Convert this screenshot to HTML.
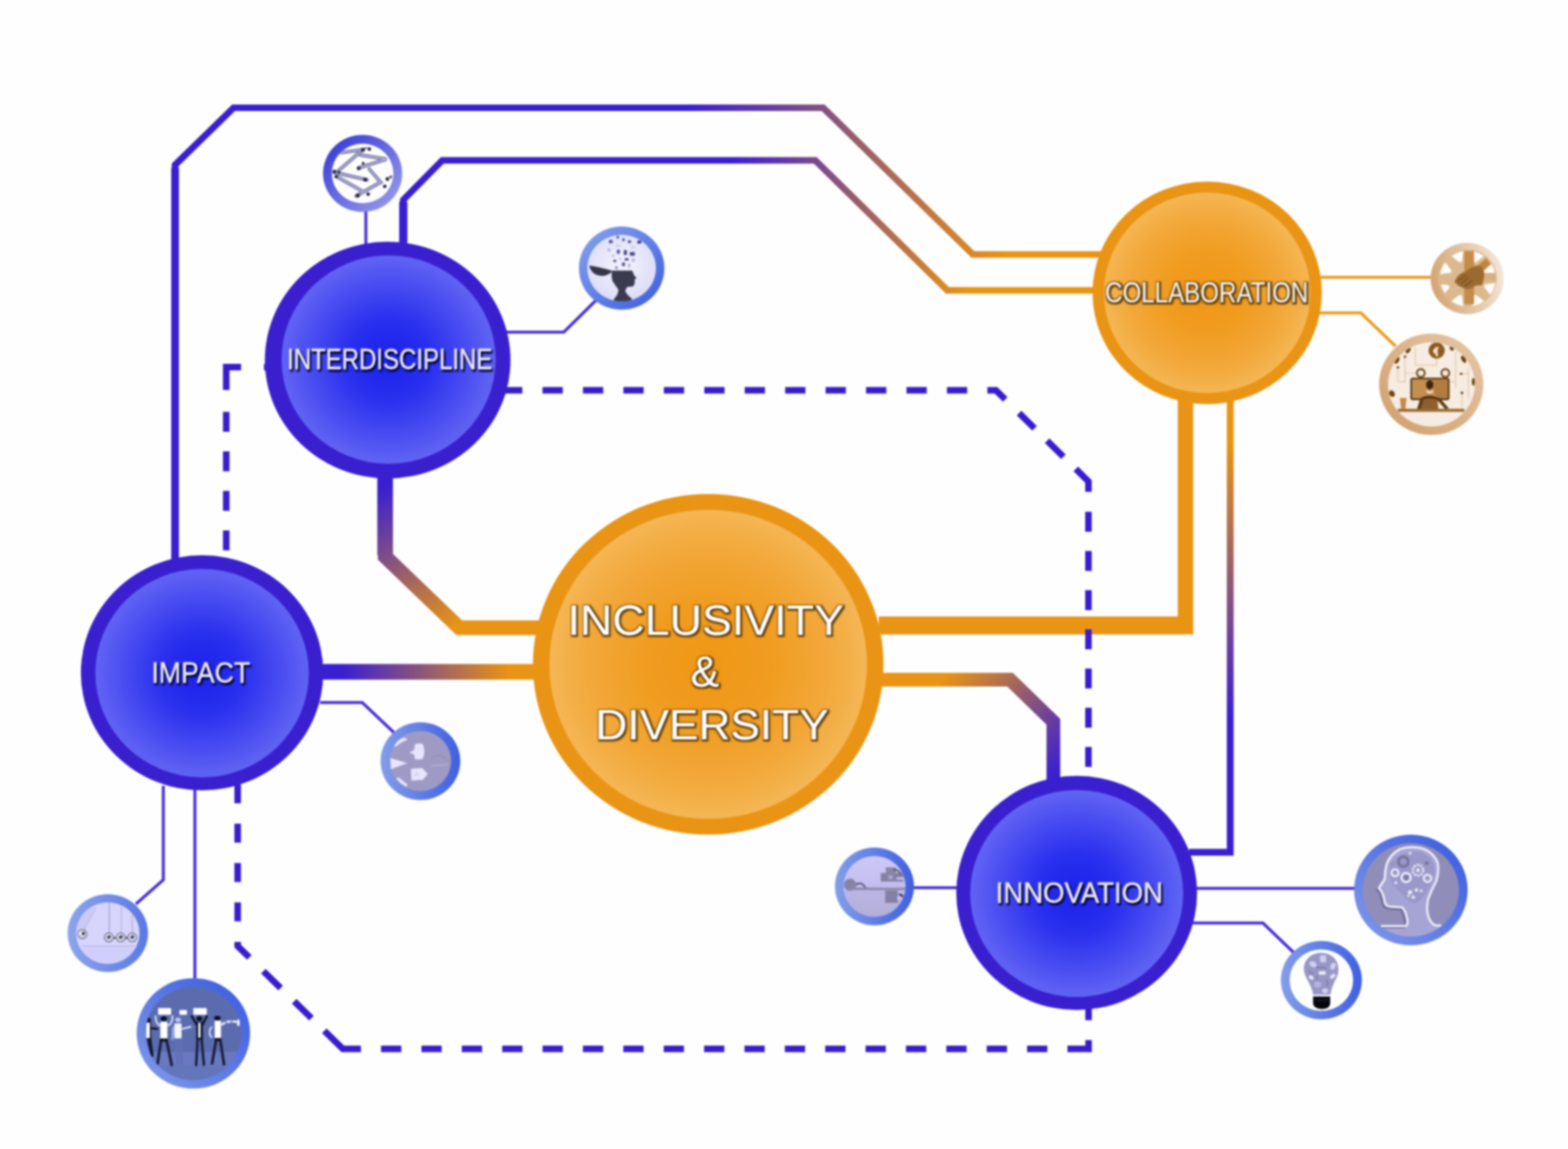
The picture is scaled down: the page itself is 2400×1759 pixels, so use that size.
<!DOCTYPE html>
<html lang="en">
<head>
<meta charset="utf-8">
<title>Inclusivity &amp; Diversity</title>
<style>
html,body{margin:0;padding:0;background:#fefefe;}
body{width:2400px;height:1759px;overflow:hidden;font-family:"Liberation Sans",sans-serif;}
svg{display:block;}
.lbl{font-family:"Liberation Sans",sans-serif;fill:#fff;text-anchor:middle;}
</style>
</head>
<body>
<svg width="2400" height="1759" viewBox="0 0 2400 1759">
<defs>
  <radialGradient id="gBlue" cx="50%" cy="50%" r="50%">
    <stop offset="0" stop-color="#1a20ea"/>
    <stop offset="0.4" stop-color="#2a30ee"/>
    <stop offset="0.75" stop-color="#4a4ef1"/>
    <stop offset="1" stop-color="#6064f3"/>
  </radialGradient>
  <radialGradient id="gOrange" cx="50%" cy="50%" r="50%">
    <stop offset="0" stop-color="#ef9614"/>
    <stop offset="0.4" stop-color="#f09c20"/>
    <stop offset="0.75" stop-color="#f2a83a"/>
    <stop offset="1" stop-color="#f4b654"/>
  </radialGradient>
  <linearGradient id="l1" gradientUnits="userSpaceOnUse" x1="1050" y1="0" x2="1540" y2="0">
    <stop offset="0" stop-color="#3a1fd0"/><stop offset="1" stop-color="#e99414"/>
  </linearGradient>
  <linearGradient id="l2" gradientUnits="userSpaceOnUse" x1="1120" y1="0" x2="1480" y2="0">
    <stop offset="0" stop-color="#3a1fd0"/><stop offset="1" stop-color="#e99414"/>
  </linearGradient>
  <linearGradient id="l3" gradientUnits="userSpaceOnUse" x1="590" y1="745" x2="705" y2="955">
    <stop offset="0" stop-color="#3a1fd0"/><stop offset="1" stop-color="#e99414"/>
  </linearGradient>
  <linearGradient id="l4" gradientUnits="userSpaceOnUse" x1="525" y1="0" x2="780" y2="0">
    <stop offset="0" stop-color="#3a1fd0"/><stop offset="1" stop-color="#e99414"/>
  </linearGradient>
  <linearGradient id="l6" gradientUnits="userSpaceOnUse" x1="1450" y1="1030" x2="1620" y2="1180">
    <stop offset="0" stop-color="#e99414"/><stop offset="1" stop-color="#3a1fd0"/>
  </linearGradient>
  <linearGradient id="l7" gradientUnits="userSpaceOnUse" x1="0" y1="675" x2="0" y2="1100">
    <stop offset="0" stop-color="#e99414"/><stop offset="1" stop-color="#3a1fd0"/>
  </linearGradient>
  <linearGradient id="r1" x1="0.1" y1="0.1" x2="0.9" y2="0.9"><stop offset="0" stop-color="#3a3ed6"/><stop offset="1" stop-color="#9498e8"/></linearGradient>
  <linearGradient id="r2" x1="0.1" y1="0.1" x2="0.9" y2="0.9"><stop offset="0" stop-color="#809cea"/><stop offset="1" stop-color="#4464e0"/></linearGradient>
  <linearGradient id="r3" x1="0" y1="0.6" x2="1" y2="0.4"><stop offset="0" stop-color="#d2a472"/><stop offset="1" stop-color="#f3e6d8"/></linearGradient>
  <linearGradient id="r4" x1="0.9" y1="0.1" x2="0.1" y2="0.9"><stop offset="0" stop-color="#e4c4a2"/><stop offset="1" stop-color="#d2a270"/></linearGradient>
  <linearGradient id="r5" x1="0" y1="0.5" x2="1" y2="0.5"><stop offset="0" stop-color="#829eea"/><stop offset="1" stop-color="#3f5fe0"/></linearGradient>
  <linearGradient id="r6" x1="0" y1="0.5" x2="1" y2="0.5"><stop offset="0" stop-color="#8ca4ec"/><stop offset="1" stop-color="#5a78e4"/></linearGradient>
  <linearGradient id="r7" x1="0.1" y1="0.9" x2="0.9" y2="0.1"><stop offset="0" stop-color="#7c94e8"/><stop offset="1" stop-color="#3f5fe0"/></linearGradient>
  <radialGradient id="f2" cx="50%" cy="45%" r="55%"><stop offset="0" stop-color="#f4f4fd"/><stop offset="1" stop-color="#dcdcf8"/></radialGradient>
  <linearGradient id="f8" x1="0" y1="0" x2="0" y2="1"><stop offset="0" stop-color="#cec8f6"/><stop offset="0.5" stop-color="#c4bef0"/><stop offset="1" stop-color="#b2acd6"/></linearGradient>
  <clipPath id="c1"><ellipse cx="555" cy="265.5" rx="47" ry="45.5"/></clipPath>
  <clipPath id="c2"><ellipse cx="951.5" cy="410.5" rx="52.5" ry="51"/></clipPath>
  <clipPath id="c3"><ellipse cx="2246" cy="426" rx="45" ry="44"/></clipPath>
  <clipPath id="c4"><ellipse cx="2191" cy="588.5" rx="66.5" ry="64.5"/></clipPath>
  <clipPath id="c5"><ellipse cx="643.5" cy="1165" rx="47" ry="46"/></clipPath>
  <clipPath id="c6"><ellipse cx="165" cy="1428.5" rx="48.5" ry="47"/></clipPath>
  <clipPath id="c7"><ellipse cx="296" cy="1582" rx="73.5" ry="71.5"/></clipPath>
  <clipPath id="c8"><ellipse cx="1338.5" cy="1357" rx="47.5" ry="46.5"/></clipPath>
  <clipPath id="c9"><ellipse cx="2159.5" cy="1362.5" rx="73.5" ry="71.5"/></clipPath>
  <clipPath id="c10"><ellipse cx="2022.5" cy="1500.5" rx="48.5" ry="47"/></clipPath>
  <filter id="tsB" x="-10%" y="-40%" width="120%" height="190%">
    <feGaussianBlur in="SourceAlpha" stdDeviation="1.5"/>
    <feOffset dx="2.4" dy="3.4" result="o"/>
    <feFlood flood-color="#03033a" flood-opacity="1"/>
    <feComposite in2="o" operator="in" result="sh"/>
    <feMerge><feMergeNode in="sh"/><feMergeNode in="sh"/><feMergeNode in="SourceGraphic"/></feMerge>
  </filter>
  <filter id="tsO" x="-10%" y="-40%" width="120%" height="190%">
    <feMorphology in="SourceAlpha" operator="dilate" radius="2.2" result="d"/>
    <feGaussianBlur in="d" stdDeviation="0.8"/>
    <feOffset dx="0.9" dy="1.3" result="o"/>
    <feFlood flood-color="#5a3804" flood-opacity="1"/>
    <feComposite in2="o" operator="in" result="sh"/>
    <feMerge><feMergeNode in="sh"/><feMergeNode in="SourceGraphic"/></feMerge>
  </filter>
  <filter id="soft" x="-2%" y="-2%" width="104%" height="104%" color-interpolation-filters="sRGB">
    <feGaussianBlur stdDeviation="1.7"/>
  </filter>
</defs>
<rect width="2400" height="1759" fill="#fefefe"/>
<g id="art" filter="url(#soft)">
<rect width="2400" height="1759" fill="#fefefe"/>

<!-- connectors -->
<g id="lines" fill="none" stroke-linejoin="miter">
  <path d="M268 860 V252.5 L357.5 165 H1260 L1489 389.5 H1690" stroke="url(#l1)" stroke-width="10.2"/>
  <path d="M268 860 V257" stroke="#3a1fd0" stroke-width="11.8"/>
  <path d="M617.3 375 V306 L677 245.5 H1248 L1450 444.5 H1680" stroke="url(#l2)" stroke-width="10.2"/>
  <path d="M617.3 375 V309" stroke="#3a1fd0" stroke-width="12.6"/>
  <path d="M589.5 725 V852 L703 961 H830" stroke="url(#l3)" stroke-width="22.3"/>
  <path d="M589.5 725 V850" stroke="url(#l3)" stroke-width="24"/>
  <path d="M490 1028.5 H825" stroke="url(#l4)" stroke-width="24"/>
  <path d="M1345 957.5 H1826.2" stroke="#e99414" stroke-width="27.5"/>
  <path d="M1814.5 610 V971" stroke="#e99414" stroke-width="23.5"/>
  <path d="M1345 1040.5 H1546 L1612.3 1105 V1195" stroke="url(#l6)" stroke-width="21"/>
  <path d="M1883 610 V1304.8 H1820" stroke="url(#l7)" stroke-width="10.5"/>
</g>
<!-- dashed guide lines -->
<g id="dashed" fill="none" stroke="#381cce" stroke-width="10" stroke-linejoin="miter">
  <path d="M369 562 H346.3 V597"/>
  <path d="M404 562 H411"/>
  <path d="M346.3 630.5 V850" stroke-dasharray="30.5 30"/>
  <path d="M768.5 597.5 H1524.4 L1666 737 V1195" stroke-dasharray="31 30.9 31 30.9 31 30.9 31 30.9 31 30.9 31 30.9 31 30.9 31 30.9 31 30.9 31 30.9 31 30.9 31 30.9 33.1 29.7 33.3 27 35 26.6 43.2 30.5 30.5 29.5 30.5 29.5 30.5 29.5 30.5 29.5 30.5 29.5 30.5 29.5 30.5 29.5 30.5 29.5 30.5 29.5"/>
  <path d="M363.8 1200.7 V1448.3 L524.8 1605.8 H1666.2 V1540" stroke-dasharray="29 31.3 29 31.3 29 31.3 29 31.3 31.4 30 37 29 37 27.5 67.4 30.8 31 30.8 31 30.8 31 30.8 31 30.8 31 30.8 31 30.8 31 30.8 31 30.8 31 30.8 31 30.8 31 30.8 31 30.8 31 30.8 31 30.8 31 30.8 31 30.8 31 30.8 46 30.5 30 30"/>
</g>
<g id="thin" fill="none" stroke="#4a2fd6" stroke-width="4.6">
  <path d="M560 320 V375"/>
  <path d="M775 508.5 H863 L912 460"/>
  <path d="M490 1075.5 H554.5 L603.5 1122"/>
  <path d="M250 1203 V1347 L208 1384"/>
  <path d="M298.3 1208 V1501"/>
  <path d="M1395 1359 H1467"/>
  <path d="M1829 1360 H2076"/>
  <path d="M1826 1413 H1933 L1983 1461"/>
  <path d="M2018 424.5 H2193" stroke="#eb9a20"/>
  <path d="M2018 479 H2083 L2136 530" stroke="#eb9a20"/>
</g>
<!-- main nodes -->
<g id="big">
  <ellipse cx="593.4" cy="551.3" rx="188" ry="181.3" fill="#3a1fcf"/>
  <ellipse cx="594.8" cy="550.5" rx="163.8" ry="159.5" fill="url(#gBlue)"/>
  <ellipse cx="309.3" cy="1030" rx="185.5" ry="180" fill="#3a1fcf"/>
  <ellipse cx="309.3" cy="1030.5" rx="163.3" ry="159.5" fill="url(#gBlue)"/>
  <ellipse cx="1648" cy="1367" rx="184.3" ry="179.3" fill="#3a1fcf"/>
  <ellipse cx="1648" cy="1367.8" rx="163" ry="158.4" fill="url(#gBlue)"/>
  <ellipse cx="1847.7" cy="448.3" rx="175.5" ry="170.4" fill="#e99414"/>
  <ellipse cx="1847.7" cy="448.3" rx="158" ry="153.5" fill="url(#gOrange)"/>
  <ellipse cx="1084" cy="1017" rx="268.3" ry="260.8" fill="#e99414"/>
  <ellipse cx="1084" cy="1017" rx="243" ry="236.5" fill="url(#gOrange)"/>
</g>
<!-- small icon nodes -->
<g id="small">
  <!-- s1: network -->
  <g id="s1">
    <ellipse cx="555" cy="265.5" rx="60.6" ry="59" fill="url(#r1)"/>
    <ellipse cx="555" cy="265.5" rx="47" ry="45.5" fill="#fdfdff"/>
    <g clip-path="url(#c1)"><g transform="translate(480 190) scale(0.0908)" fill="none" stroke-linecap="round">
      <g stroke="#6c6c96" stroke-width="60">
        <path d="M470 480 L830 430 L380 820 L900 940"/>
        <path d="M790 520 L1230 590 L760 740"/>
        <path d="M400 890 L820 1130"/>
        <path d="M940 760 L1130 980 L720 1210"/>
      </g>
      <g stroke="#b4b4e2" stroke-width="26">
        <path d="M470 480 L830 430 L380 820 L900 940"/>
        <path d="M790 520 L1230 590 L760 740"/>
        <path d="M400 890 L820 1130"/>
        <path d="M940 760 L1130 980 L720 1210"/>
      </g>
      <g fill="#2c2c44" stroke="none">
        <circle cx="830" cy="435" r="34"/><circle cx="940" cy="420" r="30"/>
        <circle cx="350" cy="800" r="32"/><circle cx="425" cy="810" r="26"/><circle cx="380" cy="885" r="30"/>
        <circle cx="760" cy="745" r="32"/><circle cx="835" cy="660" r="24"/>
        <circle cx="870" cy="935" r="34"/><circle cx="1245" cy="925" r="32"/><circle cx="1300" cy="890" r="22"/>
        <circle cx="1200" cy="1050" r="30"/><circle cx="745" cy="1205" r="34"/><circle cx="920" cy="1180" r="30"/>
      </g>
    </g></g>
  </g>

  <!-- s2: open mind -->
  <g id="s2">
    <ellipse cx="951.5" cy="410.5" rx="65.4" ry="63.7" fill="url(#r2)"/>
    <ellipse cx="951.5" cy="410.5" rx="52.5" ry="51" fill="url(#f2)"/>
    <g clip-path="url(#c2)"><g transform="translate(870 330) scale(0.09685)">
      <path fill="#3a3b4e" d="M690 870 L1005 870 Q1030 900 1035 940 L1075 985 Q1070 1005 1045 1010 L1050 1050 Q1050 1090 1030 1100 L1035 1110 Q1000 1130 940 1125 Q900 1150 900 1200 Q940 1270 1000 1310 L1000 1400 L710 1400 L720 1320 Q790 1250 790 1170 Q740 1100 700 1040 Q670 960 690 870 Z"/>
      <path fill="#343546" d="M330 790 Q480 810 690 872 Q670 930 560 952 Q400 960 340 830 Z"/>
      <g fill="#5a5a9c">
        <rect x="640" y="385" width="60" height="55" rx="10"/><rect x="760" y="320" width="40" height="45" rx="8"/>
        <rect x="850" y="360" width="40" height="45" rx="8"/><rect x="940" y="390" width="50" height="45" rx="8"/>
        <rect x="1090" y="395" width="60" height="50" rx="10" fill="#40407a"/>
        <rect x="765" y="540" width="50" height="65" rx="8"/><rect x="875" y="545" width="50" height="80" rx="10" fill="#4c4c8c"/>
        <rect x="970" y="575" width="80" height="60" rx="10" fill="#4c4c8c"/>
        <rect x="710" y="700" width="50" height="35" rx="8"/><rect x="890" y="675" width="60" height="35" rx="8" fill="#40407a"/>
        <rect x="845" y="740" width="50" height="60" rx="10"/><rect x="740" y="805" width="40" height="40" rx="8" fill="#8080c0"/>
      </g>
      <g fill="#b4b4e6">
        <rect x="620" y="520" width="45" height="50" rx="8"/><rect x="690" y="620" width="35" height="35" rx="8"/>
        <rect x="800" y="670" width="40" height="30" rx="8"/><rect x="1000" y="680" width="50" height="50" rx="8"/>
        <rect x="940" y="760" width="40" height="60" rx="8"/><rect x="980" y="480" width="80" height="40" rx="8" fill="#d0d0f2"/>
        <rect x="740" y="460" width="90" height="40" rx="8" fill="#d0d0f2"/>
      </g>
    </g></g>
  </g>

  <!-- s3: hands -->
  <g id="s3">
    <ellipse cx="2245.7" cy="426.3" rx="56" ry="54.5" fill="url(#r3)"/>
    <g clip-path="url(#c3)"><g transform="translate(2170 350) scale(0.09685)">
      <circle cx="790" cy="790" r="470" fill="#dcb88e"/>
      <path fill="#fefcfa" d="M1060 880 L1225 859 A440 440 0 0 1 1146 1049 L1045 917 Z M917 1045 L1049 1146 A440 440 0 0 1 859 1225 L880 1060 Z M700 1060 L721 1225 A440 440 0 0 1 531 1146 L663 1045 Z M504 933 L427 1021 A430 430 0 0 1 370 883 L487 892 Z M520 700 L355 721 A440 440 0 0 1 434 531 L535 663 Z M663 535 L531 434 A440 440 0 0 1 721 355 L700 520 Z M880 520 L859 355 A440 440 0 0 1 1049 434 L917 535 Z M1045 663 L1146 531 A440 440 0 0 1 1225 721 L1060 700 Z"/>
      <rect x="735" y="355" width="155" height="840" fill="#c48c48"/>
      <path d="M960 570 L1080 470 L1160 560 L1050 660 Z" fill="#c08640"/>
      <rect x="1060" y="700" width="170" height="110" fill="#d8b080"/>
      <path fill="#9a6a30" d="M580 840 Q640 700 760 680 Q860 580 980 580 Q1060 640 1050 760 Q1040 860 1000 900 Q940 880 880 920 Q820 980 720 940 Q620 900 580 840 Z"/>
      <path fill="none" stroke="#7c5222" stroke-width="22" d="M640 820 L760 740 M680 870 L800 780 M740 910 L860 820"/>
    </g></g>
  </g>

  <!-- s4: office -->
  <g id="s4">
    <ellipse cx="2190.7" cy="588.3" rx="79.8" ry="77.6" fill="url(#r4)"/>
    <ellipse cx="2191" cy="588.5" rx="66.5" ry="64.5" fill="#f6ece2"/>
    <g clip-path="url(#c4)"><g transform="translate(2090 490) scale(0.12107)">
      <g fill="none" stroke="#e6c4a6" stroke-width="12">
        <path d="M630 350 V570 H900 V480"/><path d="M500 460 V800"/><path d="M410 600 V780 H500"/>
        <path d="M1140 400 V860"/><path d="M1300 600 V1000"/><path d="M1220 920 V1100"/>
        <path d="M500 670 H640"/><path d="M1180 680 H1300"/><path d="M1070 780 H1140"/>
      </g>
      <circle cx="900" cy="385" r="102" fill="#8a5a1e"/>
      <path d="M850 400 Q870 330 930 340 Q900 380 920 440 L905 470 Q880 420 850 400 Z" fill="#f2e2cc"/>
      <circle cx="700" cy="670" r="50" fill="#f6ece2" stroke="#7a4c18" stroke-width="24"/>
      <circle cx="1010" cy="670" r="50" fill="#f6ece2" stroke="#7a4c18" stroke-width="24"/>
      <rect x="578" y="738" width="474" height="264" rx="22" fill="#c48e50" stroke="#4a2e0a" stroke-width="20"/>
      <path d="M820 750 L1040 750 L1040 990 L900 990 Z" fill="#b07c40"/>
      <ellipse cx="812" cy="818" rx="46" ry="58" fill="#3e2408"/>
      <path d="M770 880 Q812 930 855 880 L850 915 Q812 940 775 915 Z" fill="#f6ece2"/>
      <path d="M690 1140 L715 975 Q812 930 905 975 L925 1140 Z" fill="#8e5e2c"/>
      <path d="M700 985 Q812 935 920 985 L920 1010 Q812 965 700 1010 Z" fill="#4a2e0a"/>
      <path d="M715 990 L670 1135" stroke="#5a3a12" stroke-width="40" fill="none"/>
      <path d="M915 990 L1035 1125" stroke="#5a3a12" stroke-width="40" fill="none"/>
      <rect x="410" y="1122" width="840" height="38" fill="#9a6a30"/>
      <path d="M435 985 H520 L505 1122 H450 Z" fill="#c48848"/>
      <g fill="#6a4414">
        <ellipse cx="540" cy="385" rx="24" ry="42" transform="rotate(40 540 385)"/>
        <ellipse cx="400" cy="510" rx="24" ry="48" transform="rotate(30 400 510)"/>
        <ellipse cx="1240" cy="495" rx="26" ry="50" transform="rotate(-30 1240 495)"/>
        <ellipse cx="1365" cy="780" rx="20" ry="50"/>
        <ellipse cx="335" cy="930" rx="34" ry="44" transform="rotate(-30 335 930)"/>
        <ellipse cx="1090" cy="360" rx="22" ry="30" transform="rotate(-40 1090 360)"/>
        <rect x="395" y="585" width="30" height="26"/><rect x="485" y="450" width="30" height="26"/>
        <rect x="1195" y="668" width="30" height="24"/><rect x="1205" y="905" width="30" height="30"/>
      </g>
    </g></g>
  </g>

  <!-- s5: arrows -->
  <g id="s5">
    <ellipse cx="643.5" cy="1165.3" rx="61" ry="59.5" fill="url(#r5)"/>
    <ellipse cx="643.5" cy="1165" rx="47" ry="46" fill="#9e9ac4"/>
    <g clip-path="url(#c5)"><g transform="translate(565 1085) scale(0.09685)">
      <g fill="#e8e4fd">
        <path d="M635 690 L715 650 L720 570 Q780 530 850 560 Q895 660 850 790 Q790 815 720 795 L715 730 Z"/>
        <path d="M335 780 L605 860 L345 955 Z"/>
        <path d="M660 950 L840 938 L925 1030 L850 1125 L668 1132 Z"/>
        <path d="M395 595 Q450 480 560 455 L605 490 Q500 530 420 600 Z"/>
        <path d="M425 1100 L470 1088 L605 1200 L590 1235 Q500 1195 425 1100 Z"/>
      </g>
      <path d="M980 780 Q1100 690 1240 810" fill="none" stroke="#8e8ab6" stroke-width="14"/>
      <path d="M980 905 L1260 880" fill="none" stroke="#b0acd6" stroke-width="22"/>
      <path d="M730 1010 L800 1035 L730 1060 Z" fill="#cfc8fa"/>
    </g></g>
  </g>

  <!-- s6: pendulum -->
  <g id="s6">
    <ellipse cx="165" cy="1428.5" rx="61.5" ry="59.5" fill="url(#r6)"/>
    <ellipse cx="165" cy="1428.5" rx="48.5" ry="47" fill="#d7d5fc"/>
    <g clip-path="url(#c6)"><g transform="translate(85 1350) scale(0.09685)">
      <rect x="300" y="1010" width="1100" height="400" fill="#d0cffc"/>
      <path d="M330 330 L640 330 L440 800 L330 800 Z" fill="#c6c4f0" opacity="0.7"/>
      <g fill="none" stroke="#a4a0c8" stroke-width="16">
        <path d="M850 320 V830"/><path d="M1040 360 V830" stroke="#b8b4dc"/><path d="M1215 440 V830" stroke="#b0acd4"/>
        <path d="M640 400 L440 790" stroke="#bcb8e0"/>
      </g>
      <path d="M430 1012 H1250" stroke="#b2aed6" stroke-width="12" fill="none"/>
      <g fill="#d4d4ec" stroke="#74748e" stroke-width="16">
        <circle cx="425" cy="825" r="72"/><circle cx="842" cy="878" r="70"/><circle cx="1030" cy="878" r="70"/><circle cx="1212" cy="878" r="70"/>
      </g>
      <g fill="#34344a">
        <circle cx="440" cy="815" r="26"/><circle cx="842" cy="870" r="28"/><circle cx="1030" cy="870" r="28"/><circle cx="1212" cy="870" r="28"/>
        <circle cx="935" cy="885" r="16"/><circle cx="1122" cy="885" r="16"/>
      </g>
      <g fill="#fff"><circle cx="395" cy="810" r="20"/><circle cx="1015" cy="850" r="12"/><circle cx="1198" cy="850" r="12"/><circle cx="828" cy="850" r="12"/></g>
    </g></g>
  </g>

  <!-- s7: people -->
  <g id="s7">
    <ellipse cx="296" cy="1582" rx="86.8" ry="84.6" fill="url(#r7)"/>
    <ellipse cx="296" cy="1582" rx="73.5" ry="71.5" fill="#5a6cae"/>
    <g clip-path="url(#c7)"><g transform="translate(196 1482) scale(0.12107)">
      <rect x="150" y="1060" width="1400" height="500" fill="#6879bf"/>
      <rect x="150" y="1235" width="1400" height="400" fill="#6376ba"/>
      <!-- signs -->
      <g fill="#fff">
        <rect x="380" y="505" width="165" height="85" rx="6"/><rect x="650" y="530" width="95" height="60" rx="6"/><rect x="825" y="505" width="170" height="85" rx="6"/>
      </g>
      <!-- person 1 -->
      <path d="M225 640 Q255 615 285 640 L290 700 L295 900 L325 1120 L290 1125 L245 920 L225 760 Z" fill="#14162e"/>
      <rect x="228" y="690" width="48" height="195" fill="#fff"/>
      <path d="M290 760 L380 770" stroke="#0c0c1c" stroke-width="26" fill="none"/>
      <!-- person 2 -->
      <path d="M350 600 Q340 700 410 730 M560 600 Q570 700 500 730" fill="none" stroke="#c8d0f4" stroke-width="26"/>
      <ellipse cx="452" cy="640" rx="42" ry="30" fill="#0c0c1c"/>
      <rect x="408" y="680" width="90" height="215" rx="10" fill="#fff"/>
      <path d="M420 900 L370 1225 M485 900 L555 1240" stroke="#1a1c3e" stroke-width="34" fill="none"/>
      <rect x="405" y="890" width="95" height="40" fill="#14142a"/>
      <!-- person 3 -->
      <ellipse cx="632" cy="655" rx="36" ry="32" fill="#b8c2f2"/>
      <rect x="585" y="700" width="92" height="190" rx="10" fill="#f2f4ff"/>
      <path d="M680 770 L800 740" stroke="#dfe4fb" stroke-width="22" fill="none"/>
      <path d="M570 740 L560 910" stroke="#a8b4ee" stroke-width="22" fill="none"/>
      <path d="M615 900 L630 1225 M660 900 L680 1225" stroke="#6070b8" stroke-width="36" fill="none"/>
      <!-- person 4 -->
      <path d="M800 600 L870 720 M1000 600 L940 720" stroke="#14142a" stroke-width="30" fill="none"/>
      <ellipse cx="902" cy="640" rx="38" ry="32" fill="#0c0c1c"/>
      <rect x="862" y="680" width="85" height="225" rx="8" fill="#14142a"/>
      <rect x="888" y="690" width="28" height="190" fill="#fff"/>
      <path d="M880 900 L860 1240 M930 900 L960 1235" stroke="#1a1c3e" stroke-width="32" fill="none"/>
      <!-- person 5 -->
      <ellipse cx="1130" cy="632" rx="42" ry="28" fill="#0c0c1c"/>
      <rect x="1095" y="665" width="80" height="225" rx="10" fill="#fff"/>
      <path d="M1060 740 Q1000 820 1060 880" stroke="#c8d0f4" stroke-width="24" fill="none"/>
      <path d="M1180 720 Q1260 650 1400 690" stroke="#e4e8fc" stroke-width="30" fill="none" stroke-dasharray="60 14"/>
      <rect x="1380" y="650" width="30" height="80" fill="#fff"/>
      <path d="M1115 900 L1060 1220 M1165 900 L1215 1230" stroke="#1a1c3e" stroke-width="34" fill="none"/>
      <rect x="1095" y="885" width="85" height="40" fill="#14142a"/>
    </g></g>
  </g>

  <!-- s8: data -->
  <g id="s8">
    <ellipse cx="1338.5" cy="1357" rx="60.5" ry="59.5" fill="url(#r5)"/>
    <ellipse cx="1338.5" cy="1357" rx="47.5" ry="46.5" fill="url(#f8)"/>
    <g clip-path="url(#c8)"><g transform="translate(1258 1277) scale(0.09685)">
      <rect x="300" y="885" width="1100" height="500" fill="#b6b0da" opacity="0.6"/>
      <circle cx="445" cy="800" r="98" fill="#8682a6"/>
      <path d="M540 800 Q620 730 700 865" fill="#c8c2f0" stroke="#4e4c6c" stroke-width="26"/>
      <rect x="440" y="842" width="900" height="42" fill="#8c88ac"/>
      <rect x="740" y="790" width="600" height="55" fill="#c2bcec"/>
      <rect x="930" y="615" width="360" height="135" fill="#8480a4"/>
      <rect x="1010" y="525" width="160" height="100" fill="#8a86aa"/>
      <path d="M1130 560 Q1220 560 1250 640" fill="none" stroke="#5a5878" stroke-width="26"/>
      <rect x="1050" y="650" width="70" height="60" fill="#aaa6ce"/>
      <rect x="1180" y="680" width="120" height="40" fill="#c2bcec"/>
      <rect x="1000" y="890" width="200" height="195" fill="#8480a4"/>
      <rect x="1200" y="900" width="100" height="30" fill="#c2bcec"/>
      <path d="M1225 945 L1285 990" stroke="#34324e" stroke-width="30" fill="none"/>
      <rect x="1190" y="985" width="70" height="50" fill="#c8c2f0"/>
    </g></g>
  </g>

  <!-- s9: thinking head -->
  <g id="s9">
    <ellipse cx="2159.5" cy="1362.5" rx="86.9" ry="84.7" fill="url(#r7)"/>
    <ellipse cx="2159.5" cy="1362.5" rx="73.5" ry="71.5" fill="#908eb8"/>
    <g clip-path="url(#c9)"><g transform="translate(2059 1262) scale(0.12107)">
      <path id="hd" d="M450 1285 H770 Q800 1250 780 1180 Q760 1090 720 1050 L560 1040 Q500 1030 495 960 L480 900 L465 860 L425 805 Q470 740 500 690 Q500 600 520 520 Q560 380 700 310 Q820 270 960 300 Q1120 350 1170 490 Q1190 600 1150 720 Q1090 830 1050 940 Q1020 1060 1050 1160 Q1080 1260 1150 1280 H1215 L1215 1500 L450 1500 Z" fill="#a6a4d4"/>
      <path d="M420 1300 H750 Q770 1250 745 1180 Q730 1110 700 1075 L540 1062 Q470 1050 468 970 L440 870 L395 815" fill="none" stroke="#6c6a92" stroke-width="30" opacity="0.85"/>
      <path d="M450 1285 H770 Q800 1250 780 1180 Q760 1090 720 1050 L560 1040 Q500 1030 495 960 L480 900 L465 860 L425 805 Q470 740 500 690 Q500 600 520 520 Q560 380 700 310 Q820 270 960 300 Q1120 350 1170 490 Q1190 600 1150 720 Q1090 830 1050 940 Q1020 1060 1050 1160 Q1080 1260 1150 1280 H1215" fill="none" stroke="#efeffb" stroke-width="27" stroke-linejoin="round"/>
      <path d="M560 500 Q700 330 960 350 Q1120 420 1130 600 Q1100 760 1000 900 Q900 1040 820 980 Q700 880 600 760 Q540 640 560 500 Z" fill="#9a98c8"/>
      <g fill="none" stroke="#7674a0" stroke-width="34"><circle cx="735" cy="470" r="62"/></g>
      <g fill="none" stroke="#f0f0fc" stroke-width="26">
        <circle cx="630" cy="612" r="44"/><circle cx="770" cy="672" r="58"/><circle cx="1040" cy="682" r="46"/>
      </g>
      <circle cx="770" cy="672" r="34" fill="#7a78a6"/>
      <circle cx="920" cy="580" r="66" fill="none" stroke="#f0f0fc" stroke-width="30" stroke-dasharray="26 16"/>
      <circle cx="920" cy="580" r="22" fill="#f0f0fc"/>
      <g fill="#e4e4f6">
        <circle cx="640" cy="740" r="20"/><circle cx="820" cy="860" r="28"/><circle cx="900" cy="830" r="22"/><circle cx="860" cy="920" r="22"/>
        <circle cx="960" cy="840" r="18"/><circle cx="820" cy="365" r="18"/><circle cx="800" cy="905" r="16"/>
      </g>
      <circle cx="1030" cy="490" r="26" fill="#7a78a6"/>
    </g></g>
  </g>

  <!-- s10: bulb -->
  <g id="s10">
    <ellipse cx="2022.5" cy="1500.5" rx="62" ry="60" fill="url(#r5)"/>
    <ellipse cx="2022.5" cy="1500.5" rx="48.5" ry="47" fill="#fefeff"/>
    <g clip-path="url(#c10)"><g transform="translate(1943 1420) scale(0.09685)">
      <path d="M820 400 C1000 400 1100 530 1090 680 C1085 800 990 880 965 1060 L690 1060 C670 900 560 800 545 680 C530 520 650 400 820 400 Z" fill="#9896c4"/>
      <g fill="#cfcff2">
        <rect x="800" y="440" width="95" height="110" rx="14"/><ellipse cx="690" cy="580" rx="60" ry="45" transform="rotate(30 690 580)"/>
        <ellipse cx="1005" cy="610" rx="40" ry="60" transform="rotate(20 1005 610)"/><rect x="780" y="690" width="110" height="55" rx="12" fill="#e8e8fc"/>
        <ellipse cx="660" cy="790" rx="40" ry="30" transform="rotate(35 660 790)" fill="#e8e8fc"/><ellipse cx="1000" cy="770" rx="50" ry="30" transform="rotate(-40 1000 770)" fill="#e0e0f8"/>
        <ellipse cx="760" cy="900" rx="60" ry="50" fill="#b4b2de"/><ellipse cx="880" cy="1000" rx="50" ry="40"/>
      </g>
      <g fill="none" stroke="#74729c" stroke-width="16">
        <path d="M740 640 Q820 610 900 650"/><path d="M740 760 L760 840"/><path d="M900 820 Q940 880 900 930"/><path d="M620 680 Q640 720 700 720"/>
      </g>
      <path d="M690 1090 H960 V1200 Q960 1282 828 1288 Q698 1282 690 1200 Z" fill="#05050a"/>
      <path d="M720 1150 H930" stroke="#2a2a44" stroke-width="14"/>
    </g></g>
  </g>
</g>
<!-- labels -->
<g id="labelsB" filter="url(#tsB)" stroke="#e9e9f8" stroke-width="0.4" fill="#e9e9f8">
  <text class="lbl" style="fill:#e9e9f8" x="596.5" y="565.3" font-size="44" textLength="314" lengthAdjust="spacingAndGlyphs">INTERDISCIPLINE</text>
  <text class="lbl" style="fill:#e9e9f8" x="307.3" y="1044.5" font-size="44" textLength="151" lengthAdjust="spacingAndGlyphs">IMPACT</text>
  <text class="lbl" style="fill:#e9e9f8" x="1652" y="1382" font-size="44" textLength="256" lengthAdjust="spacingAndGlyphs">INNOVATION</text>
</g>
<g id="labelsO" filter="url(#tsO)">
  <text class="lbl" x="1847" y="463" font-size="43.5" textLength="311" lengthAdjust="spacingAndGlyphs" style="fill:#f6f2ea">COLLABORATION</text>
  <text class="lbl" x="1080.3" y="971.6" font-size="65.5" textLength="423" lengthAdjust="spacingAndGlyphs">INCLUSIVITY</text>
  <text class="lbl" x="1079" y="1051" font-size="66">&amp;</text>
  <text class="lbl" x="1089.8" y="1131.8" font-size="65.5" textLength="357" lengthAdjust="spacingAndGlyphs">DIVERSITY</text>
</g>
</g>
</svg>
</body>
</html>
